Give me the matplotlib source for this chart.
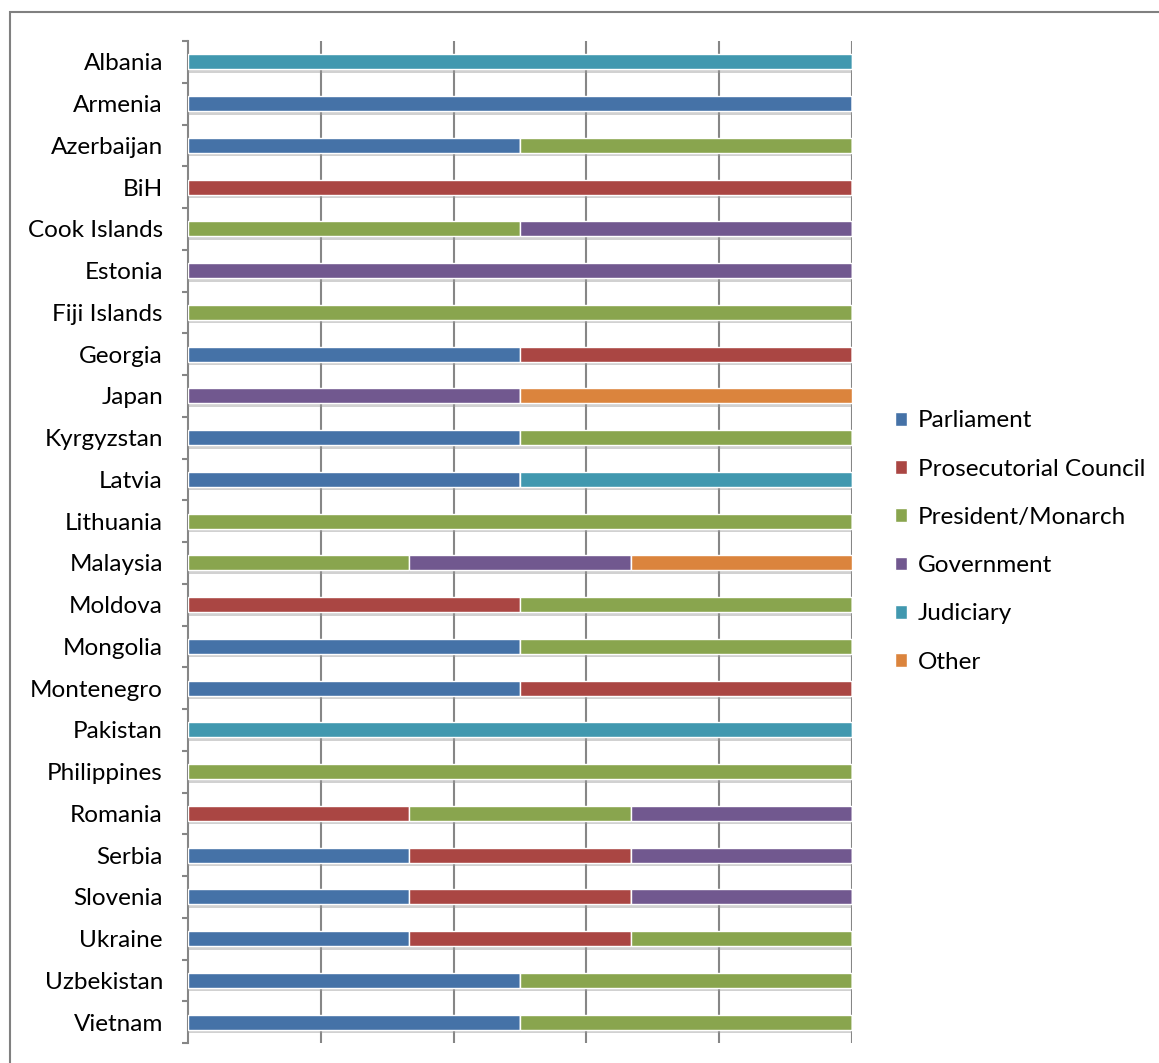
import numpy as np
import matplotlib.pyplot as plt
import matplotlib.patheffects as pe
from matplotlib.patches import Rectangle

countries = ["Albania", "Armenia", "Azerbaijan", "BiH", "Cook Islands", "Estonia",
             "Fiji Islands", "Georgia", "Japan", "Kyrgyzstan", "Latvia", "Lithuania",
             "Malaysia", "Moldova", "Mongolia", "Montenegro", "Pakistan", "Philippines",
             "Romania", "Serbia", "Slovenia", "Ukraine", "Uzbekistan", "Vietnam"]

# number of appointing bodies per country, one list per body
parliament    = [0, 1, 1, 0, 0, 0, 0, 1, 0, 1, 1, 0, 0, 0, 1, 1, 0, 0, 0, 1, 1, 1, 1, 1]
prosecutorial = [0, 0, 0, 1, 0, 0, 0, 1, 0, 0, 0, 0, 0, 1, 0, 1, 0, 0, 1, 1, 1, 1, 0, 0]
president     = [0, 0, 1, 0, 1, 0, 1, 0, 0, 1, 0, 1, 1, 1, 1, 0, 0, 1, 1, 0, 0, 1, 1, 1]
government    = [0, 0, 0, 0, 1, 1, 0, 0, 1, 0, 0, 0, 1, 0, 0, 0, 0, 0, 1, 1, 1, 0, 0, 0]
judiciary     = [1, 0, 0, 0, 0, 0, 0, 0, 0, 0, 1, 0, 0, 0, 0, 0, 1, 0, 0, 0, 0, 0, 0, 0]
other         = [0, 0, 0, 0, 0, 0, 0, 0, 1, 0, 0, 0, 1, 0, 0, 0, 0, 0, 0, 0, 0, 0, 0, 0]

series = [("Parliament", parliament, "#4572A7"),
          ("Prosecutorial Council", prosecutorial, "#AA4643"),
          ("President/Monarch", president, "#89A54E"),
          ("Government", government, "#71588F"),
          ("Judiciary", judiciary, "#4198AF"),
          ("Other", other, "#DB843D")]

plt.rcParams["font.family"] = ["Lato", "DejaVu Sans"]

fig = plt.figure(figsize=(11.59, 10.63), dpi=100)
ax = fig.add_axes([0.1622, 0.0188, 0.5729, 0.9426])

# outer chart border
fig.patches.append(Rectangle((10 / 1159, -0.05), 1.2, 1 - 12 / 1063 + 0.05,
                             transform=fig.transFigure, fill=False,
                             edgecolor="#808080", linewidth=1.5))

y = np.arange(len(countries))
totals = np.sum([s[1] for s in series], axis=0)
left = np.zeros(len(countries))
for name, vals, color in series:
    share = np.array(vals) / totals
    ax.barh(y, share, left=left, height=0.36, color=color, edgecolor="white",
            linewidth=1, label=name, zorder=3,
            path_effects=[pe.SimplePatchShadow(offset=(0, -2.5), shadow_rgbFace="#999999", alpha=0.45),
                          pe.Normal()])
    left += share

ax.set_xlim(0, 1)
ax.set_ylim(len(countries) - 0.5, -0.5)

# vertical gridlines behind the bars
for gx in [0.2, 0.4, 0.6, 0.8, 1.0]:
    ax.axvline(gx, color="#868686", linewidth=1.5, zorder=1)

for side in ["top", "right", "bottom"]:
    ax.spines[side].set_visible(False)
ax.spines["left"].set_color("#868686")
ax.spines["left"].set_linewidth(1.5)

ax.set_xticks([])
ax.set_yticks(y)
ax.set_yticklabels(countries, fontsize=17.5)
ax.tick_params(axis="y", which="major", length=0, pad=18)
ax.set_yticks(np.arange(len(countries) + 1) - 0.5, minor=True)
ax.tick_params(axis="y", which="minor", length=4.5, width=1.5, color="#868686", direction="out")

leg = ax.legend(loc="center left", bbox_to_anchor=(0.772, 0.4906), bbox_transform=fig.transFigure,
                frameon=False, fontsize=17.5, handlelength=0.5, handleheight=0.5,
                handletextpad=0.45, labelspacing=1.12, borderaxespad=0, borderpad=0)
for h in leg.legend_handles:
    h.set_path_effects([])

fig.savefig("out.png", dpi=100)
